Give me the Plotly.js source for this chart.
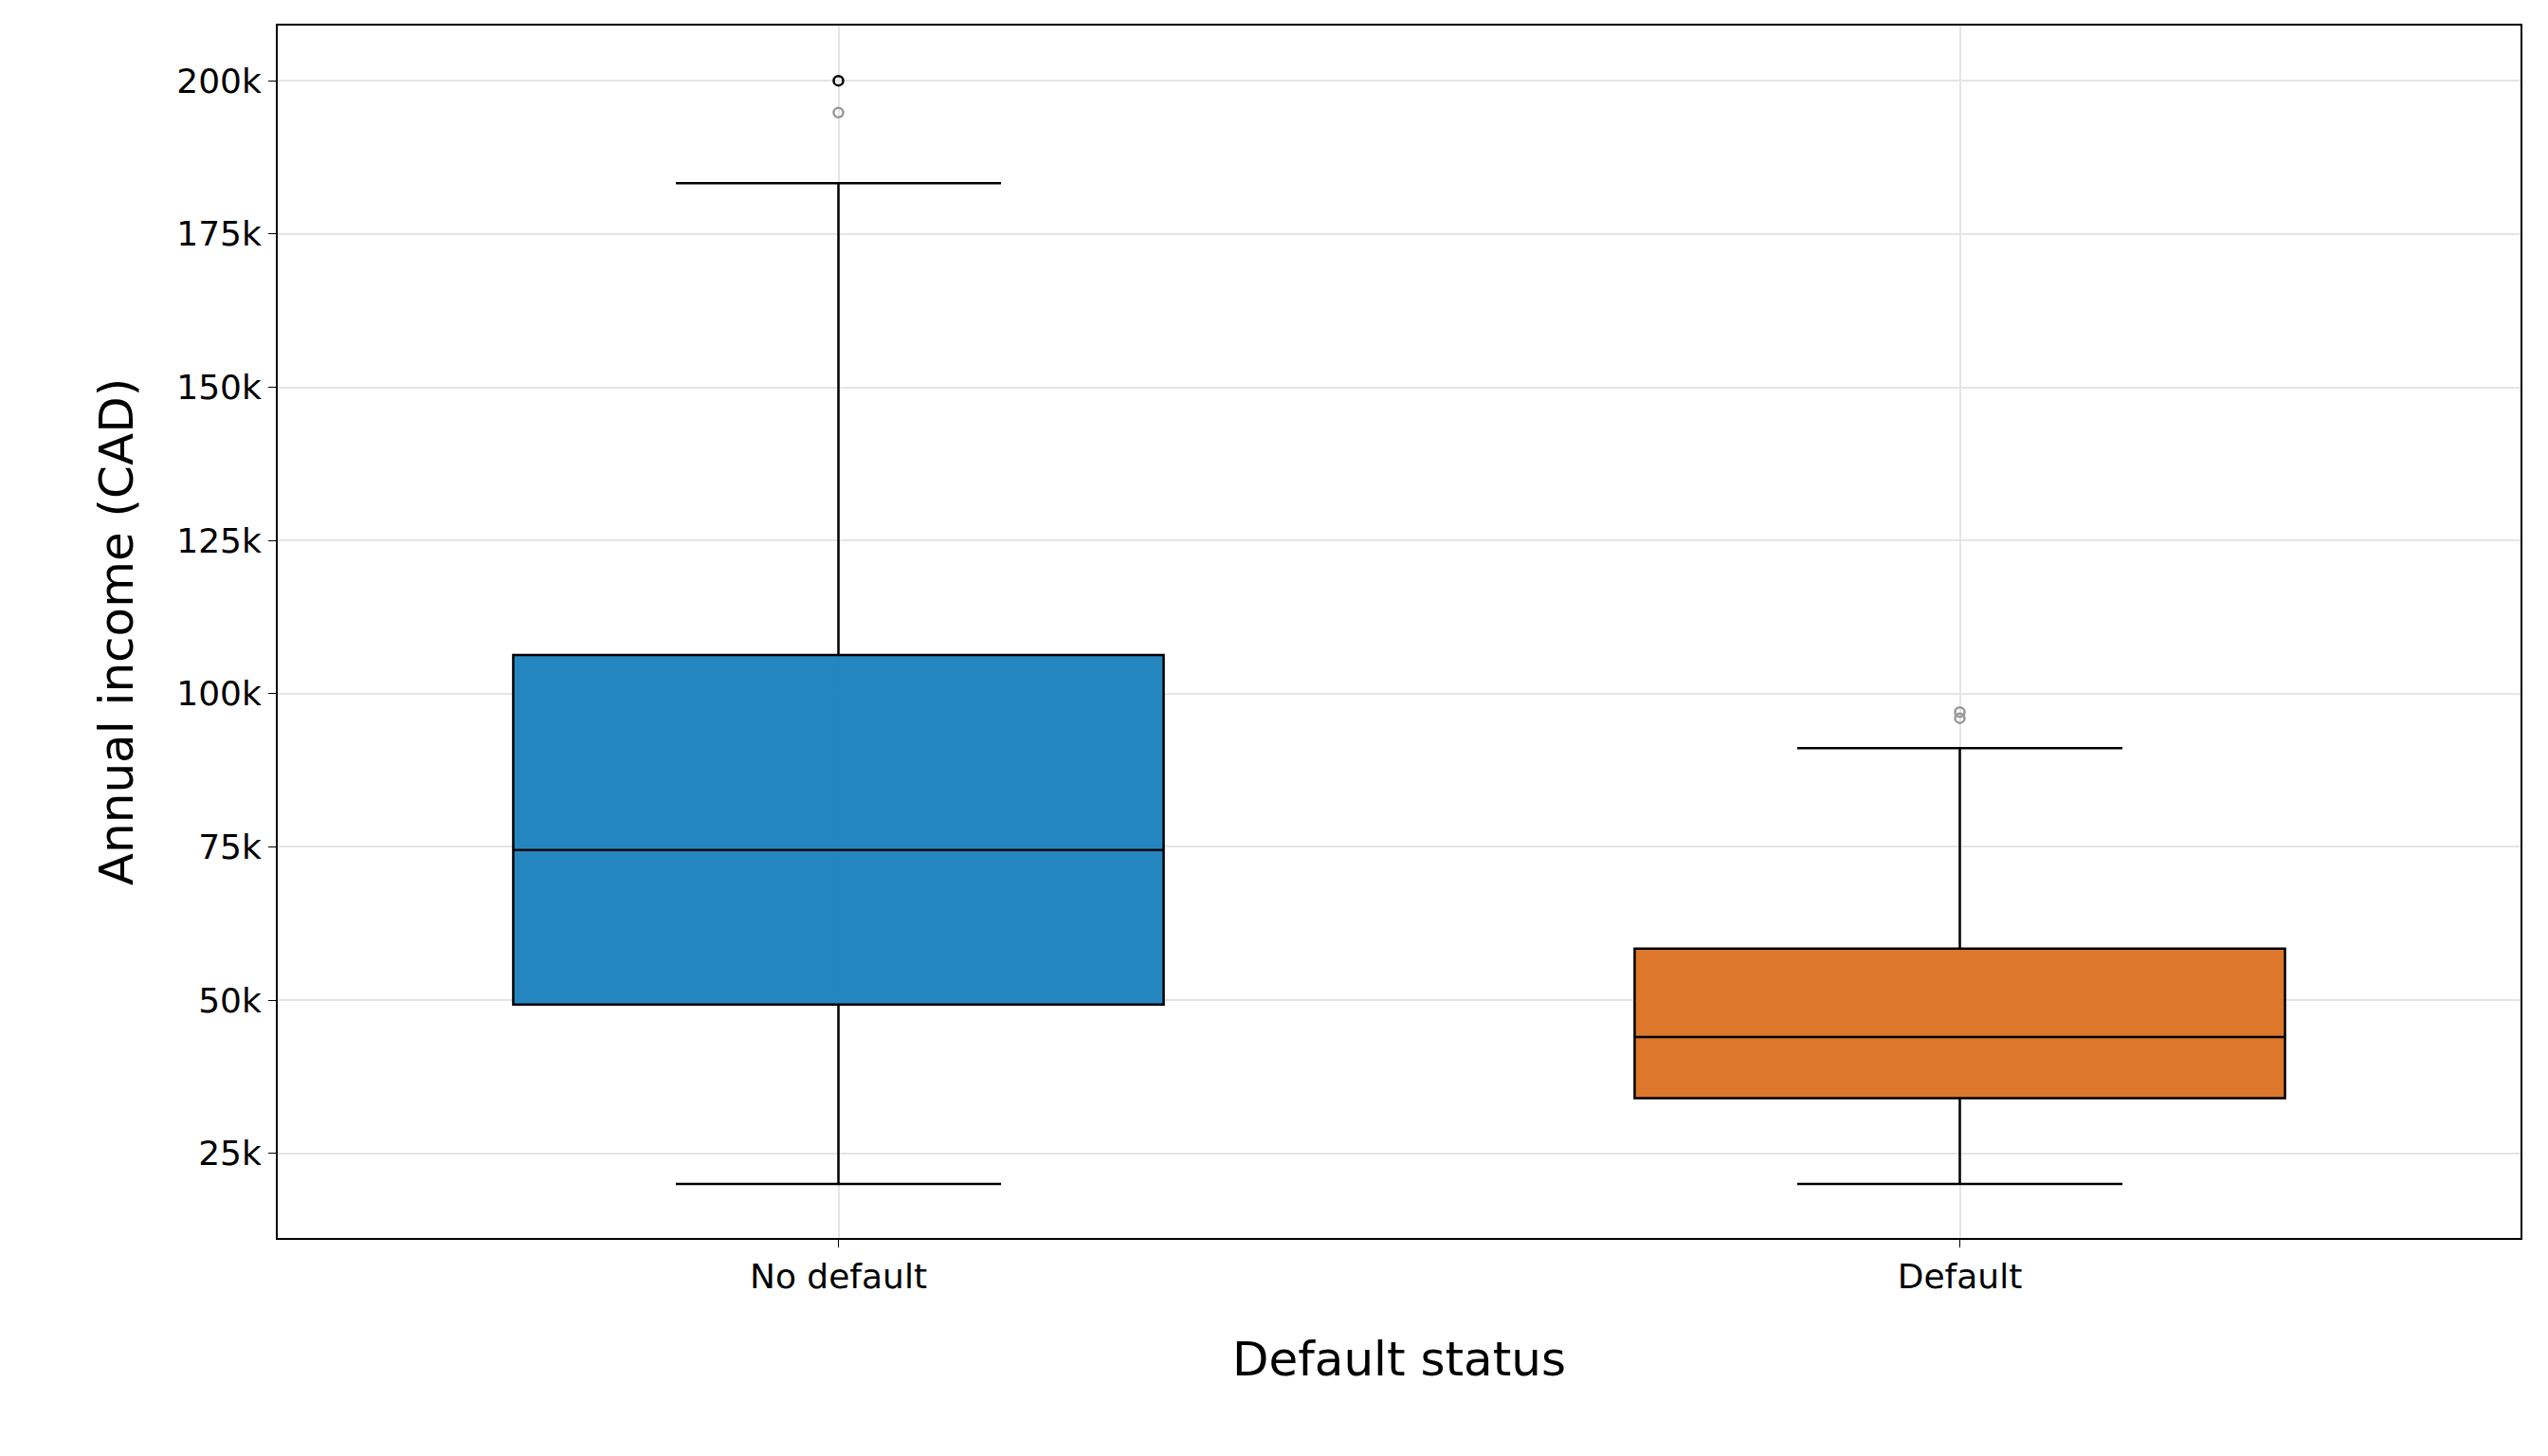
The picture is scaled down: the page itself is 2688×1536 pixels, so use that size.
<!DOCTYPE html>
<html>
<head>
<meta charset="utf-8">
<script src="https://cdn.plot.ly/plotly-3.0.1.min.js"></script>
<style>body{margin:0;background:#fff}</style>
</head>
<body>
<div id="plot" style="width:2688px;height:1536px"></div>
<script>
const categories = ['No default', 'Default']
const q1 = [49300, 34000]
const medians = [74500, 44000]
const q3 = [106300, 58400]
const lowerFence = [20000, 20000]
const upperFence = [183300, 91100]
const colors = ['rgba(25,128,188,0.95)', 'rgba(218,112,32,0.95)']
const outlierX = ['No default', 'No default', 'Default', 'Default']
const outlierY = [200000, 194800, 97000, 96000]
const outlierColor = ['#000', '#999', '#999', '#999']

const boxes = categories.map(function (c, i) {
    return {
        type: 'box',
        x: [c],
        q1: [q1[i]], median: [medians[i]], q3: [q3[i]],
        lowerfence: [lowerFence[i]], upperfence: [upperFence[i]],
        fillcolor: colors[i],
        line: { color: '#000', width: 2.5 },
        whiskerwidth: 0.5,
        width: 0.58,
        boxpoints: false,
        hoverinfo: 'y',
        showlegend: false
    }
})

const outliers = {
    type: 'scatter', mode: 'markers',
    x: outlierX, y: outlierY,
    marker: { symbol: 'circle-open', size: 10, color: outlierColor, line: { width: 2.5 } },
    showlegend: false
}

const font = { family: 'DejaVu Sans', color: '#000' }
Plotly.newPlot('plot', boxes.concat([outliers]), {
    width: 2688, height: 1536,
    margin: { l: 293, r: 29, t: 27, b: 230 },
    paper_bgcolor: '#fff', plot_bgcolor: '#fff',
    font: font,
    xaxis: {
        type: 'category', range: [-0.5, 1.5],
        showline: true, mirror: true, linecolor: '#000', linewidth: 2,
        showgrid: true, gridcolor: '#e5e5e5', gridwidth: 1.5,
        ticks: 'outside', ticklen: 8, tickcolor: '#000',
        tickfont: { size: 36, family: 'DejaVu Sans', color: '#000' },
        title: { text: 'Default status', font: { size: 50, family: 'DejaVu Sans', color: '#000' }, standoff: 50 }
    },
    yaxis: {
        range: [11200, 209000],
        tickvals: [25000, 50000, 75000, 100000, 125000, 150000, 175000, 200000],
        showline: true, mirror: true, linecolor: '#000', linewidth: 2,
        showgrid: true, gridcolor: '#e5e5e5', gridwidth: 1.5, zeroline: false,
        ticks: 'outside', ticklen: 8, tickcolor: '#000',
        tickfont: { size: 36, family: 'DejaVu Sans', color: '#000' },
        title: { text: 'Annual income (CAD)', font: { size: 50, family: 'DejaVu Sans', color: '#000' }, standoff: 30 }
    }
}, { displayModeBar: false })
</script>
</body>
</html>
